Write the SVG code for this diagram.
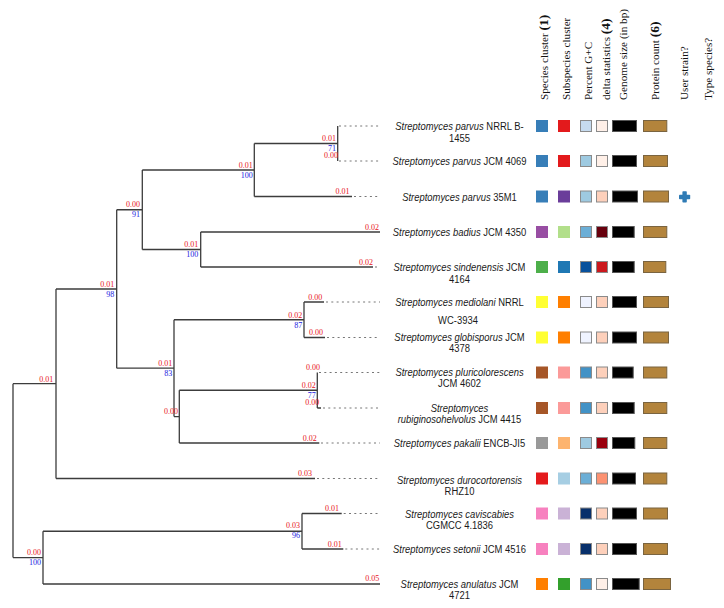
<svg xmlns="http://www.w3.org/2000/svg" width="724" height="608" viewBox="0 0 724 608">
  <style>
    .edge { fill: none; stroke: #3c3c3c; stroke-width: 1.3; }
    .dot { fill: none; stroke: #777; stroke-width: 1; stroke-dasharray: 2 3.3; }
    .bl { font-family: "Liberation Serif", "Times New Roman", serif; font-size: 8px; fill: #e8141c; text-anchor: end; }
    .bs { font-family: "Liberation Serif", "Times New Roman", serif; font-size: 8px; fill: #2020e0; text-anchor: end; }
    .lab { font-family: "Liberation Sans", Arial, sans-serif; font-size: 11.5px; fill: #1a1a1a; text-anchor: middle; }
    .it { font-style: italic; }
    .hd { font-family: "Liberation Serif", "Times New Roman", serif; font-size: 11.2px; fill: #111; }
    .hb { font-weight: bold; font-size: 13.5px; }
    .sq { stroke: none; }
    .gc { stroke: #8a8a8a; stroke-width: 1; }
    .gs { fill: #000; stroke: #555; stroke-width: 1; }
    .pc { fill: #b3843c; stroke: #7a6440; stroke-width: 1; }
  </style>

  <rect width="724" height="608" fill="#fff"/>

  <!-- column headers -->
  <g id="headers">
    <text class="hd" transform="rotate(-90 548 100)" x="548" y="100">Species cluster  <tspan class="hb">(1)</tspan></text>
    <text class="hd" transform="rotate(-90 570 100)" x="570" y="100">Subspecies cluster</text>
    <text class="hd" transform="rotate(-90 592 100)" x="592" y="100">Percent G+C</text>
    <text class="hd" transform="rotate(-90 610 100)" x="610" y="100">delta statistics <tspan class="hb">(4)</tspan></text>
    <text class="hd" transform="rotate(-90 627 100)" x="627" y="100">Genome size (in bp)</text>
    <text class="hd" transform="rotate(-90 659 100)" x="659" y="100">Protein count <tspan class="hb">(6)</tspan></text>
    <text class="hd" transform="rotate(-90 688 100)" x="688" y="100">User strain?</text>
    <text class="hd" transform="rotate(-90 712 100)" x="712" y="100">Type species?</text>
  </g>

  <!-- tree branches -->
  <g id="connectors">
    <path class="edge" d="
      M13 383.7 V557.6
      M13 383.7 H56
      M56 289 V478.5
      M56 289 H116.7
      M56 478.5 H315
      M116.7 209.75 V368.2
      M116.7 209.75 H142.3
      M142.3 170 V249.5
      M142.3 170 H254.3
      M254.3 143.5 V196.5
      M254.3 143.5 H337.7
      M337.7 126 V161
      M254.3 196.5 H352
      M142.3 249.5 H200.7
      M200.7 232 V267
      M200.7 232 H380
      M200.7 267 H373
      M116.7 368.2 H174
      M174 319.75 V416.6
      M174 319.75 H304
      M304 302 V337.5
      M304 302 H324
      M304 337.5 H325
      M174 416.6 H179.3
      M179.3 390.25 V443
      M179.3 390.25 H317.3
      M317.3 372.5 V408
      M317.3 408 H321
      M179.3 443 H319.3
      M13 557.6 H43
      M43 531.25 V584
      M43 531.25 H302
      M302 513.5 V549
      M302 513.5 H341.7
      M302 549 H343.3
      M43 584 H380"/>
    <path class="dot" d="
      M339 126 H380
      M339 161 H380
      M354 196.5 H380
      M375 267 H380
      M326 302 H380
      M327 337.5 H380
      M319 372.5 H380
      M323 408 H380
      M321 443 H380
      M317 478.5 H380
      M343.7 513.5 H380
      M345.3 549 H380"/>
  </g>

  <!-- internal node support and branch values -->
  <g id="node-a"><text class="bl" x="336" y="141">0.01</text><text class="bs" x="336" y="151">71</text><text class="bl" x="338" y="157.5">0.00</text></g>
  <g id="node-b"><text class="bl" x="252.7" y="167.5">0.01</text><text class="bs" x="252.7" y="178">100</text><text class="bl" x="349.5" y="194">0.01</text></g>
  <g id="node-c"><text class="bl" x="140" y="207">0.00</text><text class="bs" x="140" y="217">91</text></g>
  <g id="node-e"><text class="bl" x="198.3" y="247">0.01</text><text class="bs" x="198.3" y="257">100</text><text class="bl" x="379" y="229.5">0.02</text><text class="bl" x="373" y="264.5">0.02</text></g>
  <g id="node-d"><text class="bl" x="114.3" y="286.5">0.01</text><text class="bs" x="114.3" y="297">98</text></g>
  <g id="node-h"><text class="bl" x="322.3" y="299.5">0.00</text><text class="bl" x="302.3" y="317.5">0.02</text><text class="bs" x="302.3" y="327.5">87</text><text class="bl" x="323" y="334.5">0.00</text></g>
  <g id="node-g"><text class="bl" x="172.3" y="365.5">0.01</text><text class="bs" x="172.3" y="375.5">83</text></g>
  <g id="node-j"><text class="bl" x="320" y="370">0.00</text><text class="bl" x="315.7" y="387.5">0.02</text><text class="bs" x="315.7" y="398">77</text><text class="bl" x="319.3" y="404.5">0.00</text></g>
  <g id="node-i"><text class="bl" x="178" y="414">0.00</text><text class="bl" x="316.7" y="440.5">0.02</text></g>
  <g id="node-f"><text class="bl" x="53.3" y="381.5">0.01</text><text class="bl" x="312" y="476">0.03</text></g>
  <g id="node-l"><text class="bl" x="339" y="511">0.01</text><text class="bl" x="300" y="528">0.03</text><text class="bs" x="300" y="538">96</text><text class="bl" x="341.7" y="546.5">0.01</text></g>
  <g id="node-k"><text class="bl" x="41" y="554.5">0.00</text><text class="bs" x="41" y="565">100</text><text class="bl" x="379.3" y="581">0.05</text></g>

  <!-- leaves: name and metadata boxes -->
  <g id="leaf-parvus-nrrl">
    <text class="lab" transform="translate(459.5 130) scale(0.82 1)"><tspan class="it">Streptomyces parvus</tspan> NRRL B-</text>
    <text class="lab" transform="translate(459.5 141.5) scale(0.82 1)">1455</text>
    <rect class="sq" x="536" y="120" width="12" height="12" fill="#377eb8"/>
    <rect class="sq" x="558" y="120" width="12" height="12" fill="#e31a1c"/>
    <rect class="gc" x="580.5" y="120.5" width="11" height="11" fill="#c6dbef"/>
    <rect class="gc" x="596.5" y="120.5" width="11" height="11" fill="#fff0e8"/>
    <rect class="gs" x="612.5" y="120.5" width="24" height="11"/>
    <rect class="pc" x="643.5" y="120.5" width="23.3" height="11"/>
  </g>
  <g id="leaf-parvus-jcm4069">
    <text class="lab" transform="translate(459.5 165) scale(0.82 1)"><tspan class="it">Streptomyces parvus</tspan> JCM 4069</text>
    <rect class="sq" x="536" y="155" width="12" height="12" fill="#377eb8"/>
    <rect class="sq" x="558" y="155" width="12" height="12" fill="#e31a1c"/>
    <rect class="gc" x="580.5" y="155.5" width="11" height="11" fill="#9ecae1"/>
    <rect class="gc" x="596.5" y="155.5" width="11" height="11" fill="#fff0e8"/>
    <rect class="gs" x="612.5" y="155.5" width="24" height="11"/>
    <rect class="pc" x="643.5" y="155.5" width="24" height="11"/>
  </g>
  <g id="leaf-parvus-35m1">
    <text class="lab" transform="translate(459.5 200.5) scale(0.82 1)"><tspan class="it">Streptomyces parvus</tspan> 35M1</text>
    <rect class="sq" x="536" y="190.5" width="12" height="12" fill="#377eb8"/>
    <rect class="sq" x="558" y="190.5" width="12" height="12" fill="#6a3d9a"/>
    <rect class="gc" x="580.5" y="191" width="11" height="11" fill="#9ecae1"/>
    <rect class="gc" x="596.5" y="191" width="11" height="11" fill="#fdd0bb"/>
    <rect class="gs" x="612.5" y="191" width="25" height="11"/>
    <rect class="pc" x="643.5" y="191" width="25" height="11"/>
    <g fill="#2f7bb5">
      <rect x="679" y="194.8" width="11.2" height="4.4" rx="0.8"/>
      <rect x="682.4" y="191.3" width="4.4" height="11.2" rx="0.8"/>
    </g>
  </g>
  <g id="leaf-badius">
    <text class="lab" transform="translate(459.5 236) scale(0.82 1)"><tspan class="it">Streptomyces badius</tspan> JCM 4350</text>
    <rect class="sq" x="536" y="226" width="12" height="12" fill="#984ea3"/>
    <rect class="sq" x="558" y="226" width="12" height="12" fill="#b2df8a"/>
    <rect class="gc" x="580.5" y="226.5" width="11" height="11" fill="#6baed6"/>
    <rect class="gc" x="596.5" y="226.5" width="11" height="11" fill="#67000d"/>
    <rect class="gs" x="612.5" y="226.5" width="21.7" height="11"/>
    <rect class="pc" x="643.5" y="226.5" width="23.3" height="11"/>
  </g>
  <g id="leaf-sindenensis">
    <text class="lab" transform="translate(459.5 271) scale(0.82 1)"><tspan class="it">Streptomyces sindenensis</tspan> JCM</text>
    <text class="lab" transform="translate(459.5 282.5) scale(0.82 1)">4164</text>
    <rect class="sq" x="536" y="261" width="12" height="12" fill="#4daf4a"/>
    <rect class="sq" x="558" y="261" width="12" height="12" fill="#1f78b4"/>
    <rect class="gc" x="580.5" y="261.5" width="11" height="11" fill="#08519c"/>
    <rect class="gc" x="596.5" y="261.5" width="11" height="11" fill="#cb181d"/>
    <rect class="gs" x="612.5" y="261.5" width="21.7" height="11"/>
    <rect class="pc" x="643.5" y="261.5" width="22.3" height="11"/>
  </g>
  <g id="leaf-mediolani">
    <text class="lab" transform="translate(459.5 306) scale(0.82 1)"><tspan class="it">Streptomyces mediolani</tspan> NRRL</text>
    <text class="lab" transform="translate(458 324) scale(0.82 1)">WC-3934</text>
    <rect class="sq" x="536" y="296" width="12" height="12" fill="#ffff33"/>
    <rect class="sq" x="558" y="296" width="12" height="12" fill="#ff7f00"/>
    <rect class="gc" x="580.5" y="296.5" width="11" height="11" fill="#eff3ff"/>
    <rect class="gc" x="596.5" y="296.5" width="11" height="11" fill="#fdd0bb"/>
    <rect class="gs" x="612.5" y="296.5" width="24" height="11"/>
    <rect class="pc" x="643.5" y="296.5" width="25" height="11"/>
  </g>
  <g id="leaf-globisporus">
    <text class="lab" transform="translate(459.5 341) scale(0.82 1)"><tspan class="it">Streptomyces globisporus</tspan> JCM</text>
    <text class="lab" transform="translate(459.5 352) scale(0.82 1)">4378</text>
    <rect class="sq" x="536" y="331.5" width="12" height="12" fill="#ffff33"/>
    <rect class="sq" x="558" y="331.5" width="12" height="12" fill="#ff7f00"/>
    <rect class="gc" x="580.5" y="332" width="11" height="11" fill="#eff3ff"/>
    <rect class="gc" x="596.5" y="332" width="11" height="11" fill="#fdd0bb"/>
    <rect class="gs" x="612.5" y="332" width="24" height="11"/>
    <rect class="pc" x="643.5" y="332" width="25" height="11"/>
  </g>
  <g id="leaf-pluricolorescens">
    <text class="lab" transform="translate(459.5 376) scale(0.82 1)"><tspan class="it">Streptomyces pluricolorescens</tspan></text>
    <text class="lab" transform="translate(459.5 387) scale(0.82 1)">JCM 4602</text>
    <rect class="sq" x="536" y="366.5" width="12" height="12" fill="#a65628"/>
    <rect class="sq" x="558" y="366.5" width="12" height="12" fill="#fb9a99"/>
    <rect class="gc" x="580.5" y="367" width="11" height="11" fill="#4292c6"/>
    <rect class="gc" x="596.5" y="367" width="11" height="11" fill="#fdd0bb"/>
    <rect class="gs" x="612.5" y="367" width="20.7" height="11"/>
    <rect class="pc" x="643.5" y="367" width="23.3" height="11"/>
  </g>
  <g id="leaf-rubiginosohelvolus">
    <text class="lab it" transform="translate(459.5 411.5) scale(0.82 1)">Streptomyces</text>
    <text class="lab" transform="translate(459.5 422.5) scale(0.82 1)"><tspan class="it">rubiginosohelvolus</tspan> JCM 4415</text>
    <rect class="sq" x="536" y="402" width="12" height="12" fill="#a65628"/>
    <rect class="sq" x="558" y="402" width="12" height="12" fill="#fb9a99"/>
    <rect class="gc" x="580.5" y="402.5" width="11" height="11" fill="#4292c6"/>
    <rect class="gc" x="596.5" y="402.5" width="11" height="11" fill="#fdd0bb"/>
    <rect class="gs" x="612.5" y="402.5" width="21.7" height="11"/>
    <rect class="pc" x="643.5" y="402.5" width="23.3" height="11"/>
  </g>
  <g id="leaf-pakalii">
    <text class="lab" transform="translate(459.5 447) scale(0.82 1)"><tspan class="it">Streptomyces pakalii</tspan> ENCB-JI5</text>
    <rect class="sq" x="536" y="437" width="12" height="12" fill="#999999"/>
    <rect class="sq" x="558" y="437" width="12" height="12" fill="#fdb46f"/>
    <rect class="gc" x="580.5" y="437.5" width="11" height="11" fill="#9ecae1"/>
    <rect class="gc" x="596.5" y="437.5" width="11" height="11" fill="#99000d"/>
    <rect class="gs" x="612.5" y="437.5" width="22.3" height="11"/>
    <rect class="pc" x="643.5" y="437.5" width="23.3" height="11"/>
  </g>
  <g id="leaf-durocortorensis">
    <text class="lab" transform="translate(459.5 484) scale(0.82 1)"><tspan class="it">Streptomyces durocortorensis</tspan></text>
    <text class="lab" transform="translate(459.5 495) scale(0.82 1)">RHZ10</text>
    <rect class="sq" x="536" y="472.5" width="12" height="12" fill="#e41a1c"/>
    <rect class="sq" x="558" y="472.5" width="12" height="12" fill="#a6cee3"/>
    <rect class="gc" x="580.5" y="473" width="11" height="11" fill="#6baed6"/>
    <rect class="gc" x="596.5" y="473" width="11" height="11" fill="#fc9272"/>
    <rect class="gs" x="612.5" y="473" width="23" height="11"/>
    <rect class="pc" x="643.5" y="473" width="23.3" height="11"/>
  </g>
  <g id="leaf-caviscabies">
    <text class="lab" transform="translate(459.5 517.5) scale(0.82 1)"><tspan class="it">Streptomyces caviscabies</tspan></text>
    <text class="lab" transform="translate(459.5 529) scale(0.82 1)">CGMCC 4.1836</text>
    <rect class="sq" x="536" y="507.5" width="12" height="12" fill="#f781bf"/>
    <rect class="sq" x="558" y="507.5" width="12" height="12" fill="#cab2d6"/>
    <rect class="gc" x="580.5" y="508" width="11" height="11" fill="#08306b"/>
    <rect class="gc" x="596.5" y="508" width="11" height="11" fill="#fdd0bb"/>
    <rect class="gs" x="612.5" y="508" width="24" height="11"/>
    <rect class="pc" x="643.5" y="508" width="24" height="11"/>
  </g>
  <g id="leaf-setonii">
    <text class="lab" transform="translate(459.5 553) scale(0.82 1)"><tspan class="it">Streptomyces setonii</tspan> JCM 4516</text>
    <rect class="sq" x="536" y="543" width="12" height="12" fill="#f781bf"/>
    <rect class="sq" x="558" y="543" width="12" height="12" fill="#cab2d6"/>
    <rect class="gc" x="580.5" y="543.5" width="11" height="11" fill="#08306b"/>
    <rect class="gc" x="596.5" y="543.5" width="11" height="11" fill="#fdd0bb"/>
    <rect class="gs" x="612.5" y="543.5" width="24" height="11"/>
    <rect class="pc" x="643.5" y="543.5" width="24" height="11"/>
  </g>
  <g id="leaf-anulatus">
    <text class="lab" transform="translate(459.5 588) scale(0.82 1)"><tspan class="it">Streptomyces anulatus</tspan> JCM</text>
    <text class="lab" transform="translate(459.5 599) scale(0.82 1)">4721</text>
    <rect class="sq" x="536" y="578" width="12" height="12" fill="#ff7f00"/>
    <rect class="sq" x="558" y="578" width="12" height="12" fill="#33a02c"/>
    <rect class="gc" x="580.5" y="578.5" width="11" height="11" fill="#4292c6"/>
    <rect class="gc" x="596.5" y="578.5" width="11" height="11" fill="#fff0e8"/>
    <rect class="gs" x="612.5" y="578.5" width="26.7" height="11"/>
    <rect class="pc" x="643.5" y="578.5" width="27" height="11"/>
  </g>
</svg>
